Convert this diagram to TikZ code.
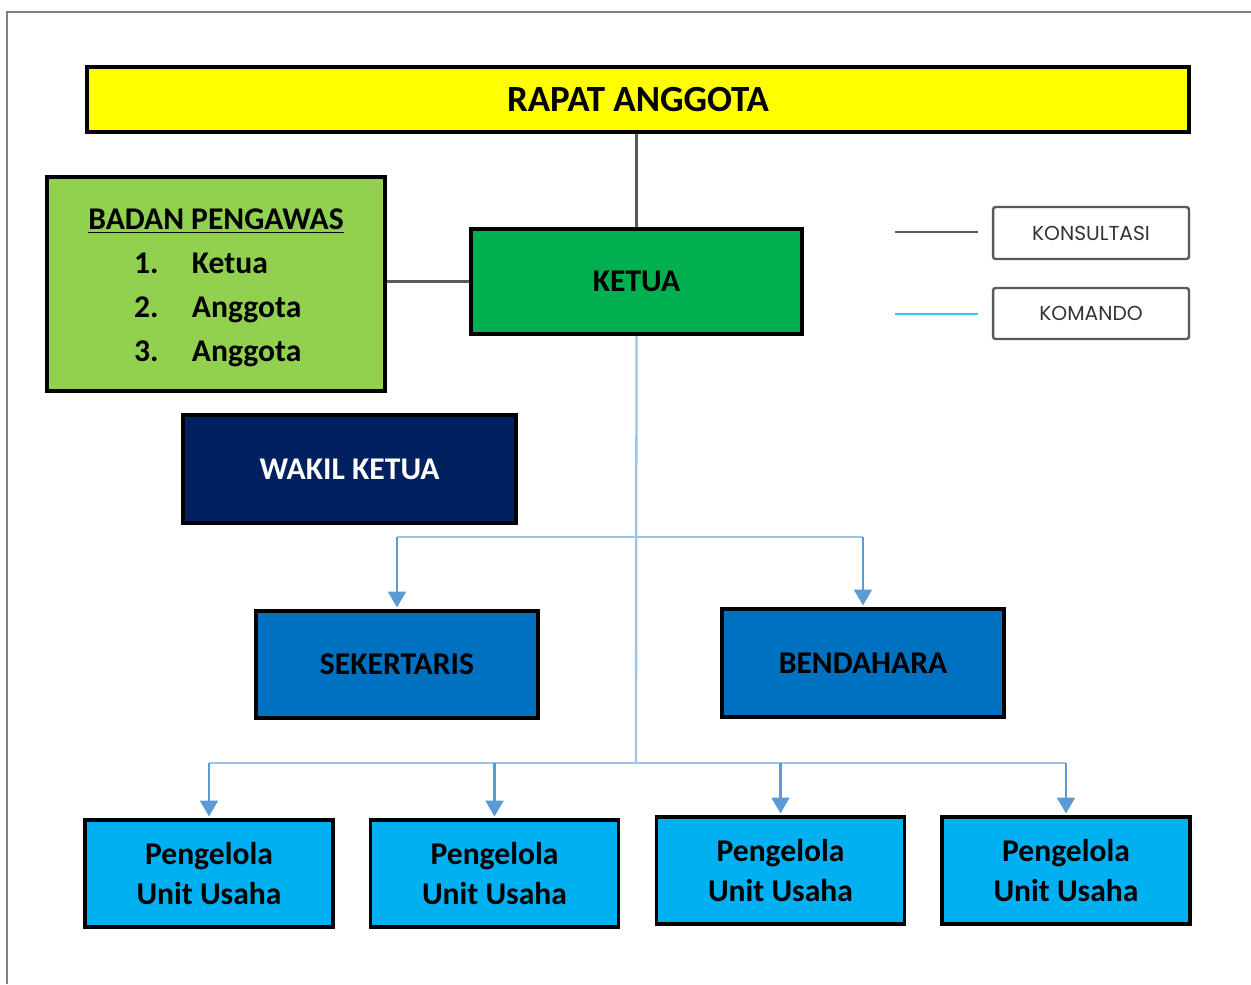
\documentclass[tikz,border=0pt]{standalone}
\usepackage{fontspec}
\setmainfont{Carlito}
\newfontfamily\legendfont{Poppins}
\usepackage{tikz}
\usetikzlibrary{arrows.meta,positioning}
\definecolor{kuning}{HTML}{FFFF00}
\definecolor{hijaumuda}{HTML}{92D050}
\definecolor{hijau}{HTML}{00B050}
\definecolor{dongker}{HTML}{002060}
\definecolor{biru}{HTML}{0070C0}
\definecolor{birumuda}{HTML}{00B0F0}
\definecolor{garisbiru}{HTML}{9DC3E6}
\definecolor{panahbiru}{HTML}{5B9BD5}
\definecolor{legbiru}{HTML}{3EC1F3}
\newcommand{\butir}[2]{\makebox[3.44cm][l]{\hspace{0.08cm}\makebox[1.16cm][l]{#1}#2}}
\tikzset{
    %Define standard arrow tip
    >={Triangle[width=10pt,length=9pt]},
    %Define style for boxes
    kotak/.style={
           rectangle,
           draw=black, line width=2pt,
           inner sep=0pt,
           font=\fontsize{18}{23}\selectfont\bfseries,
           align=center},
    legenda/.style={
           rectangle,
           rounded corners=1.5pt,
           draw=black!65, line width=1.4pt,
           minimum width=3.92cm,
           text=black!80,
           font=\legendfont\fontsize{11.5}{13}\selectfont},
    unit/.style={
           kotak,
           fill=birumuda,
           minimum width=4.96cm,
           minimum height=2.14cm},
    % Define line styles
    konsul/.style={draw=black!65, line width=1.6pt},
    komando/.style={draw=garisbiru, line width=1.3pt},
    pil/.style={->, draw=panahbiru, line width=1.6pt, shorten >=1pt}
}
\begin{document}
\begin{tikzpicture}[x=0.02cm,y=-0.02cm]
\useasboundingbox (0,0) rectangle (1251,984);
% frame
\draw[black!50, line width=1.1pt] (7,984) -- (7,12) -- (1251,12);
 %nodes
\node[kotak, fill=kuning, minimum width=22.04cm, minimum height=1.3cm,
  font=\fontsize{21}{24}\selectfont\bfseries] (rapat) at (638,99.5) {RAPAT ANGGOTA};
\node[kotak, fill=hijaumuda, minimum width=6.76cm, minimum height=4.28cm,
  font=\fontsize{18}{25}\selectfont\bfseries] (badan) at (216,284)
  {\rule{0pt}{16pt}\underline{BADAN PENGAWAS}\\
   \butir{1.}{Ketua}\\ \butir{2.}{Anggota}\\ \butir{3.}{Anggota}};
\node[kotak, fill=hijau, minimum width=6.62cm, minimum height=2.1cm] (ketua) at (636.5,281.5) {KETUA};
\node[kotak, fill=dongker, text=white, minimum width=6.66cm, minimum height=2.16cm] (wakil) at (349.5,469) {WAKIL KETUA};
\node[kotak, fill=biru, minimum width=5.64cm, minimum height=2.14cm] (sek) at (397,664.5) {SEKERTARIS};
\node[kotak, fill=biru, minimum width=5.64cm, minimum height=2.16cm] (ben) at (863,663) {BENDAHARA};
\node[unit] (p1) at (209,873.5) {Pengelola\\Unit Usaha};
\node[unit] (p2) at (494.5,873.5) {Pengelola\\Unit Usaha};
\node[unit] (p3) at (780.5,870.5) {Pengelola\\Unit Usaha};
\node[unit] (p4) at (1066,870.5) {Pengelola\\Unit Usaha};
% legend
\node[legenda, minimum height=1.04cm] (konsultasi) at (1091,233) {KONSULTASI};
\node[legenda, minimum height=1.02cm] (komandoleg) at (1091,313.5) {KOMANDO};
\coordinate (k1) at (895,232);
\coordinate (k2) at (978,232);
\coordinate (m1) at (895,314);
\coordinate (m2) at (978,314);
\draw[konsul] (k1) -- (k2);
\draw[legbiru, line width=1.7pt] (m1) -- (m2);
% lines
\coordinate (cabang1) at (636,537);
\coordinate (cabang2) at (636,763);
\draw[konsul] (ketua.north |- rapat.south) -- (ketua.north);
\draw[konsul] (ketua.west -| badan.east) -- (ketua.west);
\draw[komando] (ketua.south) -- (cabang2);
\draw[komando] (cabang1 -| sek.north) -- (cabang1 -| ben.north);
\draw[pil] (cabang1 -| sek.north) -- (sek.north);
\draw[pil] (cabang1 -| ben.north) -- (ben.north);
\draw[komando] (cabang2 -| p1.north) -- (cabang2 -| p4.north);
\foreach \i in {1,...,4}
  \draw[pil] (cabang2 -| p\i.north) -- (p\i.north);
\end{tikzpicture}
\end{document}
